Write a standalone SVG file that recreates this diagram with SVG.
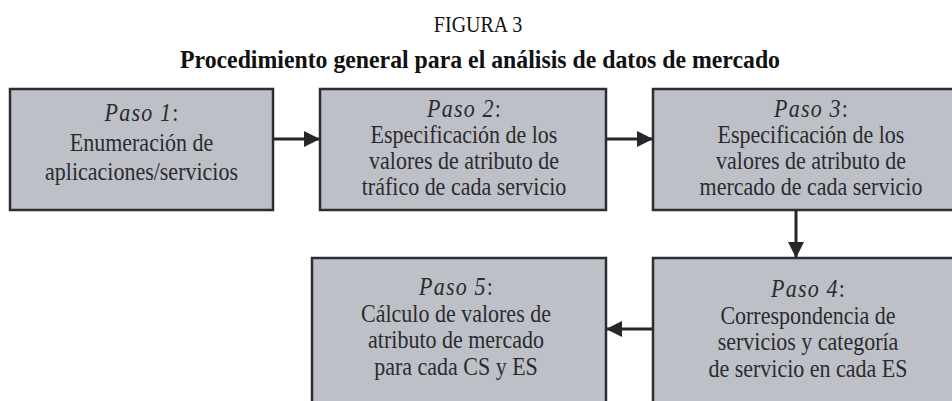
<svg xmlns="http://www.w3.org/2000/svg" width="952" height="401" viewBox="0 0 952 401">
<defs>
<style>
.box{fill:#bec0c7;stroke:#2b2d30;stroke-width:2.5}
.t{font-family:"Liberation Serif","Times New Roman",serif;font-size:22px;fill:#2a2b2e;text-anchor:middle}
.i{font-style:italic;letter-spacing:1.2px}
.title{font-family:"Liberation Serif","Times New Roman",serif;fill:#111;text-anchor:middle}
.conn{stroke:#25272a;stroke-width:3;fill:none}
</style>
<marker id="ah" viewBox="0 0 16 16" refX="16" refY="8" markerWidth="16" markerHeight="16" markerUnits="userSpaceOnUse" orient="auto">
<path d="M0,0 L16,8 L0,16 Z" fill="#25272a"/>
</marker>
</defs>
<rect width="952" height="401" fill="#fff"/>
<text class="title" transform="translate(478,32) scale(1,1.12)" font-size="20">FIGURA 3</text>
<text class="title" transform="translate(480,68) scale(1,1.12)" font-size="22" font-weight="bold" textLength="600" lengthAdjust="spacingAndGlyphs" x="-300" style="text-anchor:start">Procedimiento general para el análisis de datos de mercado</text>
<g id="connectors">
<line class="conn" x1="274" y1="139" x2="320" y2="139" marker-end="url(#ah)"/>
<line class="conn" x1="607" y1="139" x2="653" y2="139" marker-end="url(#ah)"/>
<line class="conn" x1="796" y1="211" x2="796" y2="258" marker-end="url(#ah)"/>
<line class="conn" x1="652" y1="329" x2="606" y2="329" marker-end="url(#ah)"/>
</g>
<g id="n1">
<rect class="box" x="10" y="89" width="263" height="121"/>
<text class="t" transform="translate(141.5,121) scale(1,1.12)"><tspan class="i">Paso 1</tspan>:</text>
<text class="t" transform="translate(141.5,151) scale(1,1.12)">Enumeración de</text>
<text class="t" transform="translate(141.5,180) scale(1,1.12)">aplicaciones/servicios</text>
</g>
<g id="n2">
<rect class="box" x="320" y="89" width="286" height="121"/>
<text class="t" transform="translate(464,117) scale(1,1.12)"><tspan class="i">Paso 2</tspan>:</text>
<text class="t" transform="translate(464,143) scale(1,1.12)">Especificación de los</text>
<text class="t" transform="translate(464,169) scale(1,1.12)">valores de atributo de</text>
<text class="t" transform="translate(464,195) scale(1,1.12)">tráfico de cada servicio</text>
</g>
<g id="n3">
<rect class="box" x="653" y="89" width="315" height="121"/>
<text class="t" transform="translate(811,117) scale(1,1.12)"><tspan class="i">Paso 3</tspan>:</text>
<text class="t" transform="translate(811,143) scale(1,1.12)">Especificación de los</text>
<text class="t" transform="translate(811,169) scale(1,1.12)">valores de atributo de</text>
<text class="t" transform="translate(811,195) scale(1,1.12)">mercado de cada servicio</text>
</g>
<g id="n4">
<rect class="box" x="653" y="258" width="315" height="160"/>
<text class="t" transform="translate(808,297) scale(1,1.12)"><tspan class="i">Paso 4</tspan>:</text>
<text class="t" transform="translate(808,324) scale(1,1.12)">Correspondencia de</text>
<text class="t" transform="translate(808,350) scale(1,1.12)">servicios y categoría</text>
<text class="t" transform="translate(808,377) scale(1,1.12)">de servicio en cada ES</text>
</g>
<g id="n5">
<rect class="box" x="312" y="258" width="294" height="160"/>
<text class="t" transform="translate(456,295) scale(1,1.12)"><tspan class="i">Paso 5</tspan>:</text>
<text class="t" transform="translate(456,322) scale(1,1.12)">Cálculo de valores de</text>
<text class="t" transform="translate(456,348) scale(1,1.12)">atributo de mercado</text>
<text class="t" transform="translate(456,375) scale(1,1.12)">para cada CS y ES</text>
</g>
</svg>
